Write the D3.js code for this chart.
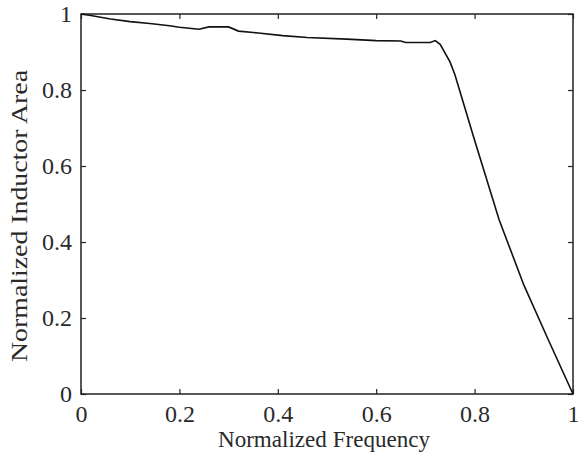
<!DOCTYPE html>
<html>
<head>
<meta charset="utf-8">
<script src="https://cdn.jsdelivr.net/npm/d3@7"></script>
<style>
body { margin: 0; background: #fff; }
</style>
</head>
<body>
<div id="chart"></div>
<script>
// Data
var freq = [0, 0.02, 0.06, 0.1, 0.14, 0.18, 0.2, 0.24, 0.26, 0.3, 0.32, 0.36, 0.41, 0.46, 0.54, 0.6, 0.65, 0.66, 0.71, 0.72, 0.73, 0.75, 0.76, 0.8, 0.85, 0.9, 0.95, 1];
var area = [1, 0.996, 0.987, 0.98, 0.975, 0.969, 0.965, 0.96, 0.966, 0.966, 0.955, 0.95, 0.943, 0.938, 0.934, 0.93, 0.929, 0.925, 0.925, 0.93, 0.92, 0.874, 0.84, 0.668, 0.458, 0.287, 0.142, 0];
var xTicks = [0, 0.2, 0.4, 0.6, 0.8, 1];
var yTicks = [0, 0.2, 0.4, 0.6, 0.8, 1];

var FONT = "'Liberation Serif'";

var margin = {top: 14, right: 5, bottom: 62, left: 81};
var width = 578 - margin.left - margin.right;
var height = 456 - margin.top - margin.bottom;

var data = freq.map(function (f, i) { return {x: f, y: area[i]}; });

var xScale = d3.scaleLinear().domain([0, 1]).range([0, width]);
var yScale = d3.scaleLinear().domain([0, 1]).range([height, 0]);

var svg = d3.select("#chart").append("svg")
    .attr("width", 578)
    .attr("height", 456)
    .append("g")
    .attr("transform", "translate(" + margin.left + "," + margin.top + ")");

var fmt = function (d) { return d === 0 || d === 1 ? d3.format("d")(d) : d3.format(".1f")(d); };

// axes, MATLAB style: ticks inward on all four sides
function styleAxis(g) {
    g.select(".domain").remove();
    g.selectAll(".tick line").attr("stroke", "#222").attr("stroke-width", 1.2);
    g.selectAll(".tick text")
        .style("font-family", FONT)
        .style("font-size", "24px")
        .attr("fill", "#2a2a2a");
}

svg.append("g")
    .attr("transform", "translate(0," + height + ")")
    .call(d3.axisBottom(xScale).tickValues(xTicks).tickFormat(fmt).tickSizeInner(-5).tickSizeOuter(0).tickPadding(11))
    .call(styleAxis);

svg.append("g")
    .call(d3.axisLeft(yScale).tickValues(yTicks).tickFormat(fmt).tickSizeInner(-5).tickSizeOuter(0).tickPadding(9))
    .call(styleAxis);

svg.append("g")
    .call(d3.axisTop(xScale).tickValues(xTicks).tickFormat("").tickSizeInner(-5).tickSizeOuter(0))
    .call(styleAxis);

svg.append("g")
    .attr("transform", "translate(" + width + ",0)")
    .call(d3.axisRight(yScale).tickValues(yTicks).tickFormat("").tickSizeInner(-5).tickSizeOuter(0))
    .call(styleAxis);

// box
svg.append("rect")
    .attr("x", 0).attr("y", 0)
    .attr("width", width).attr("height", height)
    .attr("fill", "none")
    .attr("stroke", "#222")
    .attr("stroke-width", 1.5);

// curve
var linefunc = d3.line()
    .x(function (d) { return xScale(d.x); })
    .y(function (d) { return yScale(d.y); });

svg.append("path")
    .datum(data)
    .attr("fill", "none")
    .attr("stroke", "#111")
    .attr("stroke-width", 1.6)
    .attr("d", linefunc);

// axis labels
svg.append("text")
    .attr("x", width / 2 - 3)
    .attr("y", height + 53)
    .attr("text-anchor", "middle")
    .style("font-family", FONT)
    .style("font-size", "23px")
    .attr("fill", "#2a2a2a")
    .attr("textLength", 212)
    .attr("lengthAdjust", "spacingAndGlyphs")
    .text("Normalized Frequency");

svg.append("text")
    .attr("transform", "translate(" + (-54) + "," + (216 - margin.top) + ") rotate(-90)")
    .attr("text-anchor", "middle")
    .style("font-family", FONT)
    .style("font-size", "24px")
    .attr("fill", "#2a2a2a")
    .attr("textLength", 292)
    .attr("lengthAdjust", "spacingAndGlyphs")
    .text("Normalized Inductor Area");
</script>
</body>
</html>
